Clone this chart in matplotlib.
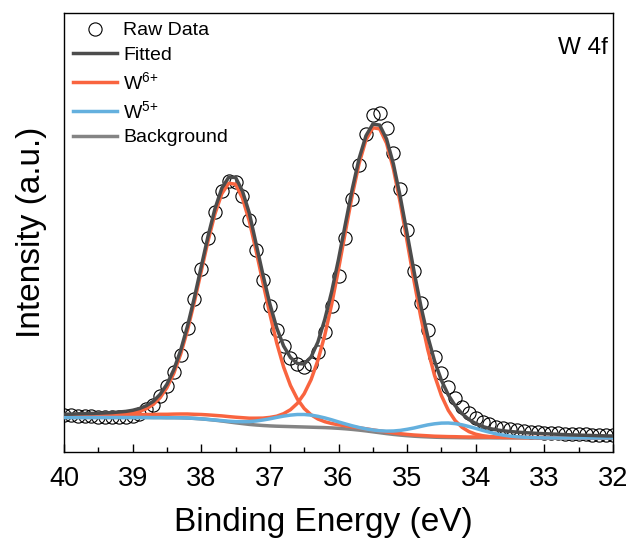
import numpy as np
import matplotlib
matplotlib.use('Agg')
import matplotlib.pyplot as plt
from matplotlib.ticker import MultipleLocator

plt.rcParams['font.family'] = ['Liberation Sans', 'DejaVu Sans']
plt.rcParams['mathtext.fontset'] = 'custom'
plt.rcParams['mathtext.rm'] = 'Liberation Sans'
plt.rcParams['mathtext.it'] = 'Liberation Sans:italic'
plt.rcParams['mathtext.bf'] = 'Liberation Sans:bold'

# binding energy grid (eV), 40.0 -> 32.0 in 0.1 steps
energy = [40.0, 39.9, 39.8, 39.7, 39.6, 39.5, 39.4, 39.3, 39.2, 39.1,
          39.0, 38.9, 38.8, 38.7, 38.6, 38.5, 38.4, 38.3, 38.2, 38.1,
          38.0, 37.9, 37.8, 37.7, 37.6, 37.5, 37.4, 37.3, 37.2, 37.1,
          37.0, 36.9, 36.8, 36.7, 36.6, 36.5, 36.4, 36.3, 36.2, 36.1,
          36.0, 35.9, 35.8, 35.7, 35.6, 35.5, 35.4, 35.3, 35.2, 35.1,
          35.0, 34.9, 34.8, 34.7, 34.6, 34.5, 34.4, 34.3, 34.2, 34.1,
          34.0, 33.9, 33.8, 33.7, 33.6, 33.5, 33.4, 33.3, 33.2, 33.1,
          33.0, 32.9, 32.8, 32.7, 32.6, 32.5, 32.4, 32.3, 32.2, 32.1,
          32.0]

raw = [37.5, 37.0, 36.5, 36.0, 35.6, 35.3, 35.2, 35.2, 35.3, 35.5,
       36.5, 38.5, 43.0, 47.5, 56.0, 66.0, 80.0, 97.0, 124.0, 153.0,
       183.0, 214.0, 240.0, 261.0, 271.0, 270.0, 256.0, 232.0, 202.0, 172.0,
       146.0, 122.0, 106.0, 94.0, 88.0, 85.0, 88.0, 100.0, 120.0, 146.0,
       176.0, 214.0, 253.0, 287.0, 318.0, 337.0, 339.0, 324.0, 299.0, 263.0,
       222.0, 181.0, 149.0, 122.0, 95.0, 79.0, 65.0, 54.0, 45.0, 39.0,
       34.0, 30.0, 28.0, 25.5, 24.0, 23.0, 22.0, 21.0, 20.5, 20.0,
       19.5, 19.0, 18.6, 18.3, 18.0, 17.8, 17.6, 17.4, 17.2, 17.0,
       16.8]

fitted = [37.7, 37.9, 38.2, 38.4, 38.5, 38.8, 39.1, 39.4, 40.0, 40.6,
          41.7, 43.5, 46.3, 50.6, 57.6, 67.8, 82.3, 101.7, 126.0, 154.4,
          185.4, 216.1, 243.3, 263.9, 274.7, 274.6, 261.0, 239.0, 208.0, 177.0,
          148.0, 124.0, 106.0, 94.5, 88.5, 88.0, 95.0, 110.0, 132.6, 160.2,
          192.6, 228.0, 262.8, 293.4, 316.2, 327.9, 326.9, 313.0, 288.0, 255.2,
          218.3, 180.8, 146.1, 115.8, 90.9, 71.6, 57.1, 46.3, 38.4, 32.5,
          28.5, 25.5, 23.5, 22.2, 21.2, 20.5, 19.9, 19.4, 19.0, 18.6,
          18.3, 18.0, 17.7, 17.4, 17.1, 16.9, 16.7, 16.5, 16.3, 16.1,
          16.0]

# W6+ doublet, 4f5/2 (~37.55 eV) and 4f7/2 (~35.45 eV)
w6_52 = [35.9, 36.0, 36.2, 36.3, 36.4, 36.6, 36.8, 37.0, 37.5, 38.0,
         39.0, 40.6, 43.3, 47.5, 54.3, 64.4, 78.7, 97.9, 122.0, 150.3,
         180.9, 211.4, 238.3, 258.4, 268.7, 267.8, 254.0, 231.0, 201.0, 169.0,
         138.0, 109.0, 85.0, 66.5, 53.0, 43.5, 37.2, 33.0, 30.3, 28.5,
         27.2, 26.2, 25.1, 24.2, 23.2, 22.1, 21.1, 20.1, 19.1, 18.3,
         17.6, 17.0, 16.6, 16.2, 15.8, 15.6, 15.4, 15.3, 15.1, 15.0,
         15.0, 14.9, 14.9, 14.8, 14.8, 14.7, 14.7, 14.7, 14.6, 14.5,
         14.5, 14.5, 14.5, 14.4, 14.4, 14.4, 14.3, 14.3, 14.3, 14.2,
         14.2]

w6_72 = [36.3, 36.4, 36.5, 36.6, 36.6, 36.7, 36.8, 36.9, 37.0, 37.1,
         37.2, 37.4, 37.5, 37.5, 37.7, 37.7, 37.9, 38.0, 38.0, 37.7,
         37.5, 37.1, 36.6, 36.1, 35.4, 34.8, 34.3, 33.8, 33.8, 33.9,
         34.6, 35.8, 38.3, 42.3, 48.6, 58.3, 72.3, 91.7, 116.8, 147.6,
         182.7, 220.1, 256.7, 288.5, 312.1, 324.2, 323.2, 308.8, 283.1, 249.1,
         210.6, 171.4, 134.7, 102.7, 76.5, 56.3, 41.7, 31.4, 24.7, 20.4,
         17.8, 16.3, 15.4, 14.95, 14.55, 14.5, 14.4, 14.3, 14.3, 14.2,
         14.1, 14.1, 14.0, 14.0, 14.0, 14.0, 14.0, 14.0, 14.0, 14.0,
         14.0]

w5 = [34.5, 34.5, 34.5, 34.5, 34.5, 34.5, 34.5, 34.5, 34.5, 34.5,
      34.5, 34.5, 34.5, 34.4, 34.4, 34.3, 34.3, 34.2, 34.0, 33.6,
      33.2, 32.6, 32.0, 31.4, 30.8, 30.4, 30.3, 30.4, 31.0, 32.0,
      33.2, 34.6, 35.9, 36.9, 37.5, 37.5, 36.9, 35.7, 34.1, 32.2,
      30.1, 28.1, 26.2, 24.5, 23.1, 22.0, 21.2, 20.9, 21.0, 21.6,
      22.7, 24.0, 25.6, 27.1, 28.2, 28.9, 29.0, 28.4, 27.2, 25.5,
      23.6, 21.6, 19.8, 18.1, 16.9, 15.9, 15.2, 14.8, 14.5, 14.2,
      14.1, 14.05, 14.0, 14.0, 14.0, 14.0, 14.0, 14.0, 14.0, 14.0,
      14.0]

background = [34.5, 34.5, 34.5, 34.5, 34.5, 34.5, 34.5, 34.5, 34.5, 34.5,
              34.5, 34.5, 34.5, 34.4, 34.4, 34.3, 34.3, 34.2, 34.0, 33.6,
              33.1, 32.5, 31.8, 31.0, 30.1, 29.2, 28.4, 27.6, 27.0, 26.5,
              26.1, 25.8, 25.6, 25.4, 25.2, 25.0, 24.8, 24.6, 24.4, 24.1,
              23.7, 23.2, 22.6, 21.9, 21.1, 20.2, 19.3, 18.4, 17.6, 16.9,
              16.3, 15.8, 15.4, 15.1, 14.8, 14.6, 14.5, 14.4, 14.3, 14.2,
              14.2, 14.2, 14.2, 14.1, 14.1, 14.1, 14.1, 14.1, 14.1, 14.0,
              14.0, 14.0, 14.0, 14.0, 14.0, 14.0, 14.0, 14.0, 14.0, 14.0,
              14.0]

RED = '#f9643f'
BLUE = '#64b0de'
DARK = '#4c4c4c'
GREY = '#848484'

fig = plt.figure(figsize=(6.29, 5.48), dpi=100)
ax = fig.add_axes([64 / 629, 96 / 548, 549 / 629, 439 / 548])

ax.plot(energy, raw, 'o', mfc='none', mec='black', ms=9.5, mew=0.8,
        label='Raw Data', zorder=2)
ax.plot(energy, fitted, color=DARK, lw=2.5, label='Fitted', zorder=6)
ax.plot(energy, w6_52, color=RED, lw=2.5, label=r'W$^{6{+}}$', zorder=4)
ax.plot(energy, w6_72, color=RED, lw=2.5, zorder=4)
ax.plot(energy, w5, color=BLUE, lw=2.5, label=r'W$^{5{+}}$', zorder=5)
ax.plot(energy, background, color=GREY, lw=2.5, label='Background', zorder=3)

ax.set_xlim(40, 32)
ax.set_ylim(0, 439)
ax.set_yticks([])
ax.xaxis.set_major_locator(MultipleLocator(1))
ax.xaxis.set_minor_locator(MultipleLocator(0.5))
ax.tick_params(axis='x', which='major', direction='in', length=6, width=1,
               labelsize=19.5, pad=10)
ax.tick_params(axis='x', which='minor', direction='in', length=3.5, width=1)
for sp in ax.spines.values():
    sp.set_linewidth(1.0)

ax.set_xlabel('Binding Energy (eV)', fontsize=24)
ax.xaxis.set_label_coords(0.472, -0.125, transform=ax.transAxes)
ax.xaxis.label.set_va('top')
ax.set_ylabel('Intensity (a.u.)', fontsize=24, labelpad=12)

ax.legend(loc='upper left', frameon=False, fontsize=14, handlelength=2.3,
          handletextpad=0.3, labelspacing=0.36, borderaxespad=0.25,
          borderpad=0.2)
ax.text(0.99, 0.945, 'W 4f', transform=ax.transAxes, ha='right', va='top',
        fontsize=17.5)

fig.savefig('out.png', dpi=100)
